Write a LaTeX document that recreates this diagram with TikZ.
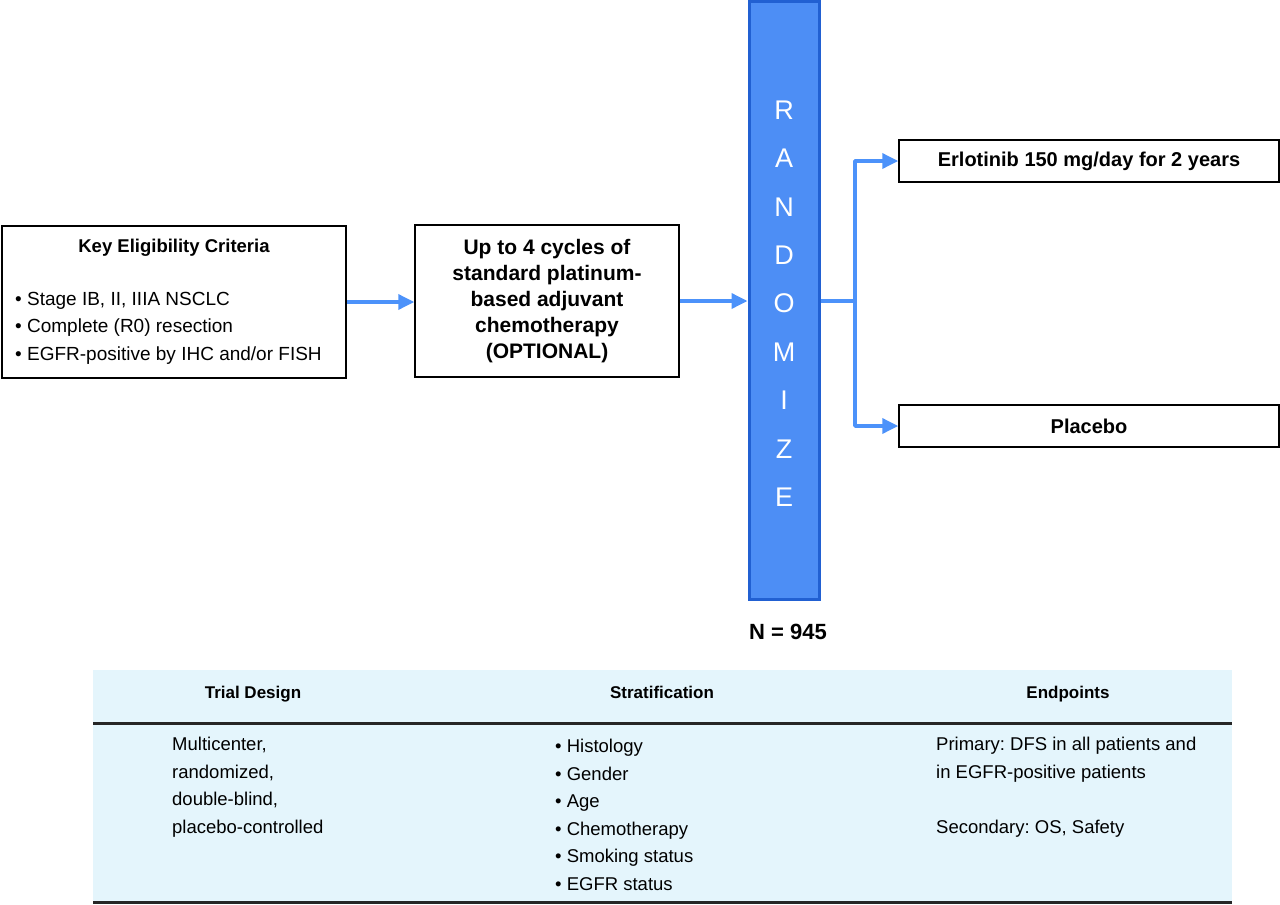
\documentclass[tikz,border=0pt]{standalone}
\usepackage{fontspec}
\setmainfont{Liberation Sans}
\usetikzlibrary{arrows.meta, positioning}
\definecolor{barblue}{HTML}{4D8EF5}
\definecolor{bardark}{HTML}{2160D2}
\definecolor{flowblue}{HTML}{4C92FA}
\definecolor{tableband}{HTML}{E4F5FC}

\tikzset{
  box/.style={draw=black, line width=1.5pt, inner sep=0pt},
  flow/.style={draw=flowblue, line width=3.5pt, line join=round, -{Triangle[length=16pt,width=15pt]}},
  flowline/.style={draw=flowblue, line width=3.5pt},
  bodytext/.style={align=left, inner sep=0pt, anchor=west, font=\fontsize{18.5pt}{27.5pt}\selectfont},
}
\frenchspacing

\begin{document}
\begin{tikzpicture}[x=1pt, y=-1pt]
  \useasboundingbox (0,0) rectangle (1280,905);

  % Eligibility box
  \node[box, minimum width=344pt, minimum height=152pt] (criteria) at (174,302) {};
  \node[font=\bfseries\fontsize{18.5pt}{22pt}\selectfont] (criteriatitle) at (174,248) {Key Eligibility Criteria};
  \node[bodytext, font=\fontsize{19pt}{27.5pt}\selectfont] (criterialist) at (15,328)
    {• Stage IB, II, IIIA NSCLC\\• Complete (R0) resection\\• EGFR-positive by IHC and/or FISH};

  % Chemotherapy box
  \node[box, minimum width=264pt, minimum height=152pt, align=center,
        font=\bfseries\fontsize{21pt}{26pt}\selectfont] (chemo) at (547,301)
    {Up to 4 cycles of\\standard platinum-\\based adjuvant\\chemotherapy\\(OPTIONAL)};

  % Randomize bar
  \node[draw=bardark, fill=barblue, line width=3pt, minimum width=70pt,
        minimum height=598pt, inner sep=0pt] (randomize) at (784,300) {};
  \foreach \letter [count=\i from 0] in {R,A,N,D,O,M,I,Z,E} {
    \node[text=white, font=\fontsize{27pt}{27pt}\selectfont] (letter\i) at (784, 110+48.4*\i) {\letter};
  }
  \node[font=\bfseries\fontsize{22pt}{22pt}\selectfont] (samplesize) at (788,632) {N = 945};

  % Treatment arms
  \node[box, minimum width=380pt, minimum height=42pt,
        font=\bfseries\fontsize{20pt}{22pt}\selectfont] (erlotinib) at (1089,161) {Erlotinib 150 mg/day for 2 years};
  \node[box, minimum width=380pt, minimum height=42pt,
        font=\bfseries\fontsize{20pt}{22pt}\selectfont] (placebo) at (1089,426) {Placebo};

  % Flow arrows
  \draw[flow] (criteria.east) -- (criteria.east -| chemo.west);
  \draw[flow] (chemo.east) -- (randomize.west |- chemo.east);
  \coordinate (split) at (855,301);
  \draw[flowline] (randomize.east |- split) -- (split);
  \draw[flow] (split) |- (erlotinib.west);
  \draw[flow] (split) |- (placebo.west);

  % Summary table
  \fill[tableband] (93,670) rectangle (1232,903);
  \draw[line width=3pt, black!85] (93,723) -- (1232,723);
  \draw[line width=3pt, black!85] (93,902) -- (1232,902);
  \foreach \x/\name/\title in {253/design/Trial Design, 662/strata/Stratification, 1068/ends/Endpoints} {
    \node[anchor=base, font=\bfseries\fontsize{17pt}{20pt}\selectfont] (\name head) at (\x,698) {\title};
  }
  \node[bodytext] (designbody) at (172,787)
    {Multicenter,\\randomized,\\double-blind,\\placebo-controlled};
  \node[bodytext] (stratabody) at (555,815)
    {• Histology\\• Gender\\• Age\\• Chemotherapy\\• Smoking status\\• EGFR status};
  \node[bodytext] (endsbody) at (936,787)
    {Primary: DFS in all patients and\\in EGFR-positive patients\\[27.5pt]Secondary: OS, Safety};
\end{tikzpicture}
\end{document}
